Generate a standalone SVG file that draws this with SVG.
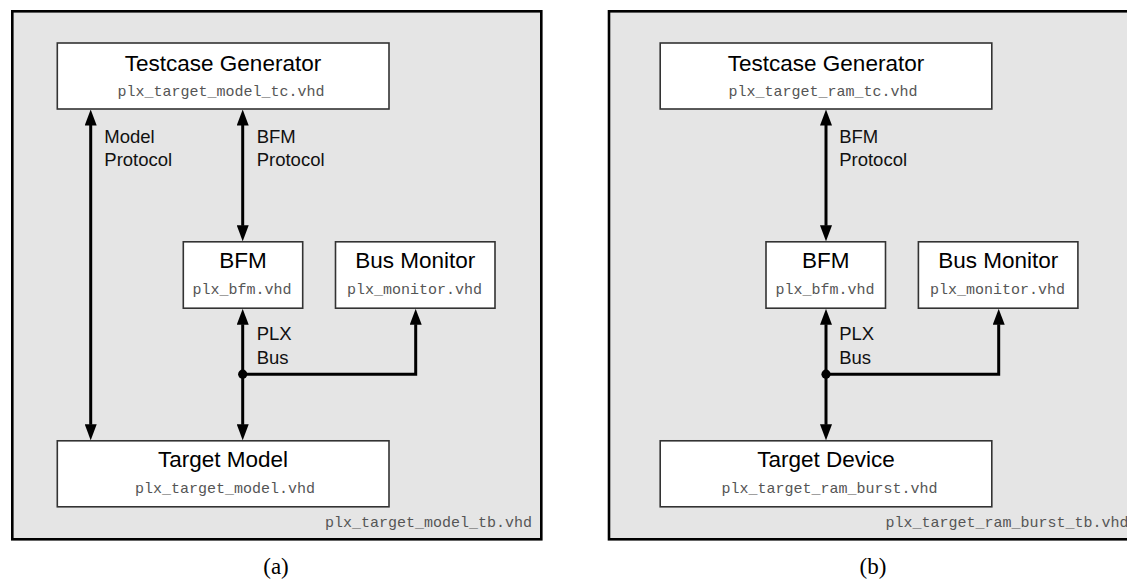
<svg xmlns="http://www.w3.org/2000/svg" width="1127" height="584" viewBox="0 0 1127 584">
<defs>
<style>
.panel{fill:#e5e5e5;stroke:#000;stroke-width:2.6}
.box{fill:#fff;stroke:#333;stroke-width:1.6}
.title{font-family:"Liberation Sans",Arial,sans-serif;font-size:22.5px;fill:#000;text-anchor:middle}
.mono{font-family:"Liberation Mono","Courier New",monospace;font-size:15px;fill:#555;text-anchor:middle}
.tb{font-family:"Liberation Mono","Courier New",monospace;font-size:15px;fill:#555}
.lbl{font-family:"Liberation Sans",Arial,sans-serif;font-size:18.5px;fill:#111}
.cap{font-family:"Liberation Serif","DejaVu Serif",serif;font-size:23px;fill:#000;text-anchor:middle}
.wire{fill:none;stroke:#000;stroke-width:3}
.arr{marker-start:url(#ah);marker-end:url(#ah)}
.arr1{marker-end:url(#ah)}
</style>
<marker id="ah" markerUnits="userSpaceOnUse" markerWidth="16" markerHeight="12" viewBox="0 0 16 12" refX="0.5" refY="6" orient="auto-start-reverse">
<path d="M0,0 L16,6 L0,12 z" fill="#000"/>
</marker>
</defs>

<!-- Panel (a) -->
<g id="panel-a">
<rect class="panel" x="12.3" y="11.3" width="529" height="528"/>
<text class="tb" x="325" y="527">plx_target_model_tb.vhd</text>
</g>
<g id="a-testcase-generator">
<rect class="box" x="57.3" y="43" width="331.7" height="66"/>
<text class="title" x="223" y="70.5">Testcase Generator</text>
<text class="mono" x="221" y="96">plx_target_model_tc.vhd</text>
</g>
<g id="a-bfm">
<rect class="box" x="183.3" y="241.8" width="119.4" height="66.4"/>
<text class="title" x="243" y="268.3">BFM</text>
<text class="mono" x="242" y="293.5">plx_bfm.vhd</text>
</g>
<g id="a-bus-monitor">
<rect class="box" x="335.5" y="241.8" width="159.5" height="66.4"/>
<text class="title" x="415.3" y="268.3">Bus Monitor</text>
<text class="mono" x="414.5" y="293.5">plx_monitor.vhd</text>
</g>
<g id="a-target-model">
<rect class="box" x="57.3" y="440.8" width="331.7" height="66"/>
<text class="title" x="223" y="466.7">Target Model</text>
<text class="mono" x="225" y="493.3">plx_target_model.vhd</text>
</g>
<g id="a-connectors">
<line class="wire arr" x1="90.7" y1="125" x2="90.7" y2="424.8"/>
<line class="wire arr" x1="242.7" y1="125" x2="242.7" y2="225.8"/>
<line class="wire arr" x1="242.7" y1="324.3" x2="242.7" y2="424.8"/>
<polyline class="wire arr1" points="242.7,374.2 415.7,374.2 415.7,324.3"/>
<circle cx="242.7" cy="374.2" r="4.6" fill="#000"/>
<text class="lbl" x="104.3" y="143">Model</text>
<text class="lbl" x="104.3" y="166">Protocol</text>
<text class="lbl" x="256.7" y="143">BFM</text>
<text class="lbl" x="256.7" y="166">Protocol</text>
<text class="lbl" x="256.7" y="340">PLX</text>
<text class="lbl" x="256.7" y="364">Bus</text>
</g>
<text class="cap" x="276" y="574">(a)</text>

<!-- Panel (b) -->
<g id="panel-b">
<rect class="panel" x="609" y="11.3" width="530" height="528"/>
<text class="tb" x="885.5" y="527">plx_target_ram_burst_tb.vhd</text>
</g>
<g id="b-testcase-generator">
<rect class="box" x="660.2" y="43" width="331.6" height="66"/>
<text class="title" x="826" y="70.5">Testcase Generator</text>
<text class="mono" x="823" y="96">plx_target_ram_tc.vhd</text>
</g>
<g id="b-bfm">
<rect class="box" x="766" y="241.8" width="119.5" height="66.4"/>
<text class="title" x="825.8" y="268.3">BFM</text>
<text class="mono" x="825" y="293.5">plx_bfm.vhd</text>
</g>
<g id="b-bus-monitor">
<rect class="box" x="918.4" y="241.8" width="159.5" height="66.4"/>
<text class="title" x="998.2" y="268.3">Bus Monitor</text>
<text class="mono" x="997.5" y="293.5">plx_monitor.vhd</text>
</g>
<g id="b-target-device">
<rect class="box" x="660.2" y="440.8" width="331.6" height="66"/>
<text class="title" x="826" y="466.7">Target Device</text>
<text class="mono" x="829.5" y="493.3">plx_target_ram_burst.vhd</text>
</g>
<g id="b-connectors">
<line class="wire arr" x1="826" y1="125" x2="826" y2="225.8"/>
<line class="wire arr" x1="826" y1="324.3" x2="826" y2="424.8"/>
<polyline class="wire arr1" points="826,374.2 998.7,374.2 998.7,324.3"/>
<circle cx="826" cy="374.2" r="4.6" fill="#000"/>
<text class="lbl" x="839.2" y="143">BFM</text>
<text class="lbl" x="839.2" y="166">Protocol</text>
<text class="lbl" x="839.2" y="340">PLX</text>
<text class="lbl" x="839.2" y="364">Bus</text>
</g>
<text class="cap" x="873" y="574">(b)</text>
</svg>
